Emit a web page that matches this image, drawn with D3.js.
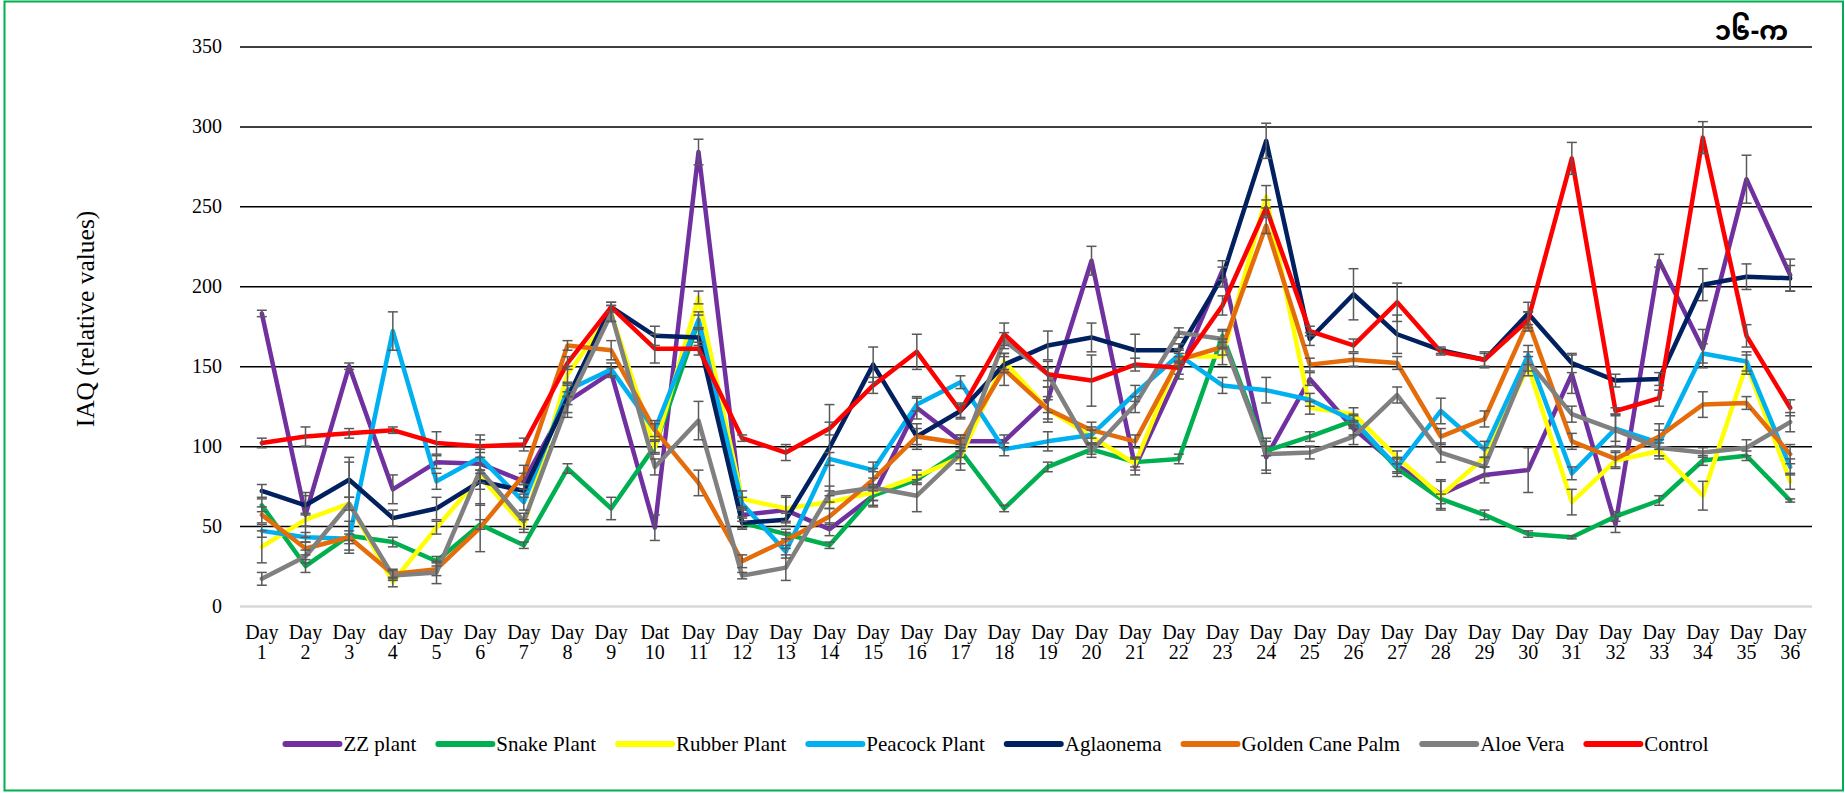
<!DOCTYPE html>
<html>
<head>
<meta charset="utf-8">
<script src="https://cdn.jsdelivr.net/npm/d3@7/dist/d3.min.js"></script>
<style>
  html, body { margin: 0; padding: 0; background: #fff; }
  svg { display: block; }
  text { font-family: "Liberation Serif", "Times New Roman", serif; fill: #000; }
</style>
</head>
<body>
<svg id="chart" width="1845" height="793"></svg>
<script>
// ---------- DATA ----------
const days = ["Day 1","Day 2","Day 3","day 4","Day 5","Day 6","Day 7","Day 8","Day 9","Dat 10",
  "Day 11","Day 12","Day 13","Day 14","Day 15","Day 16","Day 17","Day 18","Day 19","Day 20",
  "Day 21","Day 22","Day 23","Day 24","Day 25","Day 26","Day 27","Day 28","Day 29","Day 30",
  "Day 31","Day 32","Day 33","Day 34","Day 35","Day 36"];

const yTicks = [0, 50, 100, 150, 200, 250, 300, 350];

const seriesNames = ["ZZ plant","Snake Plant","Rubber Plant","Peacock Plant","Aglaonema","Golden Cane Palm","Aloe Vera","Control"];
const seriesColors = ["#7030A0","#00B050","#FFFF00","#00B0F0","#002060","#E46C0A","#808080","#FF0000"];

const zzPlant    = [183,57,150,73,90,89,78,128,146,49,284,57,60,48,69,124,103,103,129,216,87,146,210,93,142,111,88,70,82,85,145,51,216,161,267,207];
const snakePlant = [63,25,44,40,28,51,38,86,61,100,178,52,45,38,69,79,97,61,87,98,90,92,169,97,106,116,86,67,57,45,43,56,66,91,94,66];
const rubberPlant= [37,54,64,15,49,81,50,145,183,99,193,67,61,65,71,81,93,153,123,106,89,156,156,256,124,120,93,69,93,150,65,91,97,69,151,78];
const peacockPlant=[47,43,42,172,78,93,65,135,148,110,179,64,34,92,85,126,140,98,103,107,133,157,138,135,129,116,87,122,98,157,83,111,102,158,153,87];
const aglaonema  = [72,63,79,55,61,78,72,130,187,169,168,52,54,99,151,106,122,151,163,168,160,160,206,291,167,195,170,160,154,183,152,141,142,201,206,205];
const goldenCane = [57,36,43,20,23,49,82,163,160,110,77,28,41,56,79,106,102,148,123,110,103,154,162,238,151,154,152,106,117,178,103,92,106,126,127,95];
const aloeVera   = [17,31,64,19,21,85,53,126,183,87,116,19,24,70,74,69,95,166,145,97,126,171,167,95,96,106,132,96,87,153,120,110,99,96,99,115];
const control    = [102,106,108,110,102,100,101,152,187,161,161,105,96,111,138,159,122,170,145,141,151,149,188,249,172,163,190,159,154,179,280,122,130,293,169,124];

const errZZ      = [2,14,2,9,4,4,5,10,3,8,8,4,8,4,6,7,4,4,8,9,5,4,6,10,4,4,4,9,5,14,12,5,4,12,15,10];
const errSnake   = [4,4,3,3,3,3,2,3,7,4,4,3,3,2,3,3,4,2,3,3,3,3,4,3,3,3,3,3,3,2,1,3,3,3,3,1];
const errRubber  = [10,4,4,3,4,4,4,5,5,4,4,5,8,4,5,4,4,5,8,4,4,4,5,7,4,4,4,9,6,6,8,5,5,9,6,5];
const errPeacock = [4,3,3,12,5,5,5,4,4,4,5,4,4,4,5,4,4,4,6,5,5,4,5,8,4,4,6,8,5,6,4,8,8,6,6,5];
const errAglao   = [4,6,11,5,7,5,4,4,3,6,5,4,4,27,11,5,5,5,9,9,10,4,6,11,4,16,12,2,4,7,6,4,4,10,8,8];
const errGolden  = [5,4,10,3,4,15,6,3,6,6,8,4,5,5,5,8,5,10,6,5,4,4,5,5,4,4,4,5,5,6,5,5,8,8,4,6];
const errAloe    = [4,4,29,3,7,22,5,5,5,5,12,2,8,5,12,10,10,5,8,4,5,3,5,10,4,5,5,6,6,6,5,10,5,3,5,6];
const errControl = [3,6,3,2,7,4,4,4,3,9,4,2,5,4,5,11,4,7,4,16,4,4,6,5,3,4,12,2,5,5,10,2,5,10,7,5];

const seriesValues = [zzPlant, snakePlant, rubberPlant, peacockPlant, aglaonema, goldenCane, aloeVera, control];
const seriesErrors = [errZZ, errSnake, errRubber, errPeacock, errAglao, errGolden, errAloe, errControl];

const yTitle = "IAQ (relative values)";
const cornerLabel = "၁၆-က";

// ---------- CHART ----------
const SERIF = "'Liberation Serif', 'Times New Roman', serif";
const svg = d3.select("#chart");
const plot = {left: 240, right: 1812, top: 46.5, bottom: 606};

// border
svg.append("rect").attr("x", 4.5).attr("y", 1.5).attr("width", 1838.5).attr("height", 789)
  .attr("fill", "#fff").attr("stroke", "#00B050").attr("stroke-width", 2);

const x = d3.scaleBand().domain(days).range([plot.left, plot.right]);
const xc = d => x(d) + x.bandwidth() / 2;
const y = d3.scaleLinear().domain([0, 350]).range([plot.bottom, plot.top]);

// y axis with gridlines
const yAxis = svg.append("g").attr("transform", `translate(${plot.left},0)`)
  .call(d3.axisLeft(y).tickValues(yTicks).tickSize(-(plot.right - plot.left)).tickPadding(18));
yAxis.attr("font-family", SERIF);
yAxis.select(".domain").remove();
yAxis.selectAll(".tick line")
  .attr("stroke", d => d === 0 ? "#D9D9D9" : "#000")
  .attr("stroke-width", d => d === 0 ? 2.5 : 1.5);
yAxis.selectAll(".tick text")
  .style("font-family", SERIF)
  .style("font-size", "20px").attr("fill", "#000");

// x axis labels (two lines)
const xAxis = svg.append("g").attr("transform", `translate(0,${plot.bottom})`)
  .call(d3.axisBottom(x).tickSize(0).tickPadding(0));
xAxis.attr("font-family", SERIF);
xAxis.select(".domain").remove();
xAxis.selectAll(".tick text").each(function(d) {
  const parts = d.split(" ");
  const t = d3.select(this).text(null)
    .attr("dy", null).attr("y", null)
    .style("font-family", SERIF)
    .style("font-size", "20px").attr("fill", "#000");
  t.append("tspan").attr("x", 0).attr("y", 33).text(parts[0]);
  t.append("tspan").attr("x", 0).attr("y", 53).text(parts[1]);
});

// lines
const line = d3.line().x((v, i) => xc(days[i])).y(v => y(v));
const linesG = svg.append("g");
seriesValues.forEach((vals, s) => {
  linesG.append("path").datum(vals)
    .attr("d", line)
    .attr("fill", "none")
    .attr("stroke", seriesColors[s])
    .attr("stroke-width", 4.5)
    .attr("stroke-linejoin", "round")
    .attr("stroke-linecap", "round");
});

// error bars
const errG = svg.append("g").attr("stroke", "#595959").attr("stroke-width", 1.5).attr("fill", "none");
seriesValues.forEach((vals, s) => {
  vals.forEach((v, i) => {
    const e = seriesErrors[s][i];
    const cx = xc(days[i]);
    const y1 = y(v + e), y2 = y(v - e);
    errG.append("line").attr("x1", cx).attr("x2", cx).attr("y1", y1).attr("y2", y2);
    errG.append("line").attr("x1", cx - 5).attr("x2", cx + 5).attr("y1", y1).attr("y2", y1);
    errG.append("line").attr("x1", cx - 5).attr("x2", cx + 5).attr("y1", y2).attr("y2", y2);
  });
});

// y title
svg.append("text")
  .attr("transform", "translate(85,319) rotate(-90)")
  .attr("text-anchor", "middle").attr("dominant-baseline", "central")
  .style("font-family", SERIF)
  .style("font-size", "25.5px")
  .text(yTitle);

// corner label
svg.append("text")
  .attr("x", 1788).attr("y", 40)
  .attr("text-anchor", "end")
  .style("font-family", "'Noto Sans Myanmar', 'Myanmar Text', 'Padauk', 'Noto Sans', 'DejaVu Sans', sans-serif")
  .style("font-size", "26px").style("font-weight", "bold")
  .text(cornerLabel);

// legend
const legG = svg.append("g");
const legY = 744, lineLen = 54, gapText = 4, gapItem = 22;
const items = seriesNames.map((name, i) => {
  const g = legG.append("g");
  g.append("line").attr("x1", 0).attr("x2", lineLen).attr("y1", 0).attr("y2", 0)
    .attr("stroke", seriesColors[i]).attr("stroke-width", 6).attr("stroke-linecap", "round");
  const t = g.append("text").attr("x", lineLen + gapText).attr("y", 0)
    .attr("dominant-baseline", "central")
    .style("font-family", SERIF)
    .style("font-size", "21px").text(name);
  return {g, w: lineLen + gapText + t.node().getComputedTextLength()};
});
const total = d3.sum(items, d => d.w) + gapItem * (items.length - 1);
let cur = 997 - total / 2;
items.forEach(it => {
  it.g.attr("transform", `translate(${cur},${legY})`);
  cur += it.w + gapItem;
});
</script>
</body>
</html>
